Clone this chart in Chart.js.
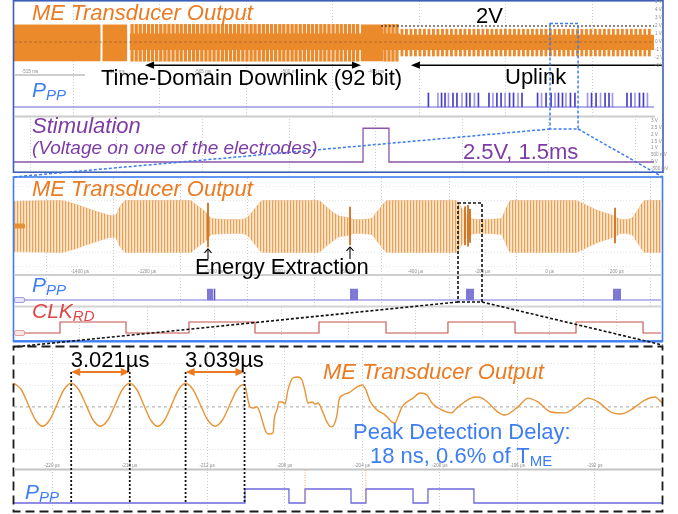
<!DOCTYPE html>
<html>
<head>
<meta charset="utf-8">
<title>ME transducer link waveforms</title>
<script src="https://cdn.jsdelivr.net/npm/chart.js@4/dist/chart.umd.min.js"></script>
<style>
  html, body { margin: 0; padding: 0; background: #fff; }
  #fig { position: relative; width: 678px; height: 514px; overflow: hidden; background: #fff;
         font-family: "Liberation Sans", Arial, Helvetica, sans-serif; }
  #fig canvas { position: absolute; }
  #fig svg { position: absolute; left: 0; top: 0; pointer-events: none; }
  .t { position: absolute; white-space: nowrap; line-height: 1; }
  .sub { position: relative; }
</style>
</head>
<body>
<div id="fig"></div>
<script>
// ===================== Panel 1: full frame, ms time base =====================
const p1RangeMs = [-515.925, -478.93];
const p1GridMs = [-515, -510, -505, -500, -495, -490, -485, -480];
const p1TickMs = [-515, -510, -505, -500, -495];
const p1MeVoltTicks = [5, 4, 3, 2, 1, 0, -1, -2, -3];
const p1StimVoltTicks = [3, 2.5, 2, 1.5, 1, 0.5, 0, -0.5];

// carrier envelope (solid part of the burst): time, upper V, lower V
const p1EnvTimeMs = [-515.93, -510.93, -510.92, -510.81, -510.80, -509.39, -509.38, -509.23, -509.22,
                     -495.88, -495.87, -494.60, -494.59, -493.62, -493.61, -478.93];
const p1EnvUpperV = [2.2, 2.2, 0, 0, 2.2, 2.2, 0, 0, 1.05, 1.05, 2.2, 2.2, 1.05, 1.05, 0.9, 0.9];
const p1EnvLowerV = [-2.4, -2.4, 0, 0, -2.4, -2.4, 0, 0, -1.0, -1.0, -2.4, -2.4, -1.0, -1.0, -1.0, -1.0];

// full-swing carrier cycles between the amplitude notches
const p1DownlinkTeethMs = [-509.10, -508.86, -508.63, -508.39, -508.15, -507.92, -507.68, -507.44, -507.20, -506.97,
  -506.73, -506.49, -506.26, -506.02, -505.78, -505.54, -505.31, -505.07, -504.83, -504.60, -504.36, -504.12,
  -503.88, -503.65, -503.41, -503.17, -502.94, -502.70, -502.46, -502.22, -501.99, -501.75, -501.51, -501.28,
  -501.04, -500.80, -500.56, -500.33, -500.09, -499.85, -499.62, -499.38, -499.14, -498.90, -498.67, -498.43,
  -498.19, -497.96, -497.72, -497.48, -497.24, -497.01, -496.77, -496.53, -496.30, -496.06];
const p1ResumeTeethMs = [-494.48, -494.25, -494.02, -493.79];
const p1UplinkTeethMs = [-493.50, -493.24, -492.98, -492.72, -492.46, -492.20, -491.94, -491.68, -491.42, -491.16,
  -490.90, -490.64, -490.38, -490.12, -489.86, -489.60, -489.34, -489.08, -488.82, -488.56, -488.30, -488.04,
  -487.78, -487.52, -487.26, -487.00, -486.74, -486.48, -486.22, -485.96, -485.70, -485.44, -485.18, -484.92,
  -484.66, -484.40, -484.14, -483.88, -483.62, -483.36, -483.10, -482.84, -482.58, -482.32, -482.06, -481.80,
  -481.54, -481.28, -481.02, -480.76, -480.50, -480.24, -479.98, -479.72, -479.46, -479.20];
const p1DownlinkSwingV = [-2.4, 2.2];
const p1UplinkSwingV = [-1.75, 1.6];

const p1RefLevelV = 2;
const p1RefStartMs = -494.71;
const p1ArrowLevelV = -2.9;
const p1DownlinkSpanMs = [-508.35, -495.87];
const p1UplinkStartMs = -492.98;
const p1ZoomMs = [-484.94, -483.32];

// peak-detector output pulses during uplink
const p1PpPulseMs = [-491.97, -491.42, -491.21, -491.01, -490.81, -490.55, -490.32, -490.03, -489.77, -489.57,
  -489.31, -489.08, -488.47, -488.24, -488.01, -487.77, -487.54, -487.28, -487.05, -486.79, -486.56, -485.66,
  -485.43, -485.17, -484.88, -484.65, -484.45, -484.22, -484.02, -483.76, -483.50, -482.77, -482.54, -482.28,
  -482.02, -481.76, -481.53, -481.33, -480.49, -480.26, -480.03, -479.77, -479.54, -479.31];
const p1PpHighV = 3;

// stimulation pulse on the electrode
const p1StimStartMs = -495.75;
const p1StimWidthMs = 1.5;
const p1StimAmpV = 2.5;

// ===================== Panel 2: uplink detail, µs time base =====================
const p2RangeUs = [-1596.7, 331.7];
const p2GridUs = [-1400, -1200, -1000, -800, -600, -400, -200, 0, 200];
const p2EnvTimeUs = [-1596.7, -1459.6, -1429.8, -1385.1, -1340.4, -1304.6, -1295.7, -1280.8, -1262.9,
  -1072.1, -1051.3, -1027.4, -1021.5, -1006.6, -923.1, -902.2, -878.4, -854.5,
  -690.6, -666.8, -631.0, -601.2, -580.3, -532.6, -511.8, -482.0,
  -279.3, -261.4, -249.5, -231.6, -213.7, -145.2, -130.3, -115.4,
  75.4, 105.2, 143.9, 179.7, 194.6, 215.5, 242.3, 263.2, 284.1, 331.7];
const p2EnvAmpV = [1.90, 1.97, 1.82, 1.44, 1.06, 0.83, 0.83, 1.52, 1.97,
  1.97, 1.59, 1.14, 0.99, 0.61, 0.53, 0.68, 1.36, 1.97,
  1.97, 1.52, 0.83, 0.68, 0.53, 0.61, 1.21, 1.97,
  1.97, 1.36, 0.91, 0.61, 0.53, 0.61, 1.36, 1.97,
  1.97, 1.67, 1.21, 0.91, 0.76, 0.53, 0.61, 1.29, 1.97, 1.97];
const p2SpikeUs = [-1018.5, -595.2, -252.5, -243.5, -237.6, 194.6];
const p2SpikeHiV = [1.78, 1.48, 1.5, 1.6, 1.3, 1.4];
const p2SpikeLoV = [-1.55, -1.40, -1.4, -1.5, -1.2, -1.25];
const p2PpPulseUs = [-1018.5, -1012.5, -1006.6, -999.1, -592.2, -586.3, -580.3, -574.3,
  -246.5, -240.6, -234.6, -228.6, 191.6, 197.6, 203.6, 209.5];
const p2ClkEdgeUs = [-1459.6, -1262.9, -1075.1, -878.4, -687.6, -487.9, -303.3, -103.4, 78.4, 278.1];
const p2ZoomUs = [-273.3, -201.8];

// ===================== Panel 3: one extraction event, µs time base =====================
const p3RangeUs = [-221.96, -188.54];
const p3GridUs = [-220, -216, -212, -208, -204, -200, -196, -192];
const p3WaveUs = [-221.96, -221.59, -221.22, -220.85, -220.49, -220.12, -219.75, -219.38, -219.01,
  -218.63, -218.25, -217.88, -217.50, -217.12, -216.74, -216.37, -215.99,
  -215.63, -215.27, -214.91, -214.55, -214.19, -213.83, -213.47, -213.11,
  -212.73, -212.35, -211.97, -211.59, -211.21, -210.83, -210.45, -210.07,
  -209.89, -209.79, -209.58, -209.43, -209.27, -209.12, -208.96, -208.81, -208.60, -208.53,
  -208.40, -208.29, -208.14, -207.98, -207.83, -207.57, -207.31, -207.11, -206.95, -206.80,
  -206.59, -206.44, -206.28, -206.08, -205.82, -205.61, -205.46, -205.30, -205.20, -204.99,
  -204.63, -204.27, -204.01, -203.81, -203.60, -203.24, -202.83, -202.47, -202.31, -202.16,
  -201.95, -201.69, -201.38, -201.02, -200.66, -200.40, -200.09, -199.42, -199.06, -198.39,
  -198.03, -197.67, -197.00, -196.64, -195.97, -195.45, -194.94, -194.27, -193.54, -192.87,
  -192.36, -191.84, -191.17, -190.66, -190.14, -189.42, -188.90, -188.54];
const p3WaveV = [1.10, 0.81, 0.10, -0.61, -0.90, -0.61, 0.10, 0.81, 1.10,
  0.81, 0.10, -0.61, -0.90, -0.61, 0.10, 0.81, 1.10,
  0.81, 0.10, -0.61, -0.90, -0.61, 0.10, 0.81, 1.10,
  0.81, 0.10, -0.61, -0.90, -0.61, 0.10, 0.81, 1.05,
  0.32, 0.00, -0.05, 0.00, -0.28, -0.75, -1.17, -1.26, -1.21, -0.52,
  -0.15, 0.23, 0.23, 0.13, 0.79, 1.35, 1.39, 1.25, 0.74, 0.18,
  0.23, 0.13, 0.18, -0.14, -0.70, -0.93, -0.84, -0.37, 0.32, 0.55,
  0.69, 0.93, 1.02, 0.79, 0.27, -0.14, -0.37, -0.70, -0.75, -0.47,
  0.00, 0.23, 0.41, 0.65, 0.55, 0.18, -0.05, -0.28, 0.00, 0.41,
  0.46, 0.32, -0.24, -0.38, 0.00, 0.41, 0.23, -0.24, -0.28, 0.09,
  0.41, 0.23, -0.24, -0.33, -0.14, 0.32, 0.46, 0.18];
// measured peak-to-peak periods
const p3PeriodStartUs = [-219.01, -213.11];
const p3PeriodUs = [3.021, 3.039];
const p3DelayNs = 18;
const p3PpEdgesUs = [-210.05, -207.78, -206.95, -204.58, -203.81, -201.38, -200.61, -198.24];

// ============================================================================
const FIG = document.getElementById('fig');
const ORANGE = '#EA8A2B';
const TXT_ORANGE = '#EB7B22';
const TXT_BLUE = '#3D7EF3';
const TXT_PURPLE = '#7D3CA5';

function makeScope(box, xRange, yRange, build, grid = {}) {
  const cv = document.createElement('canvas');
  cv.width = box.w; cv.height = box.h;
  Object.assign(cv.style, { left: box.x + 'px', top: box.y + 'px', width: box.w + 'px', height: box.h + 'px' });
  FIG.appendChild(cv);
  const ctx = cv.getContext('2d');
  const fixedTicks = vals => axis => { axis.ticks = (vals || []).map(v => ({ value: v })); };
  const chart = new Chart(ctx, {
    type: 'line',
    data: { datasets: build(ctx) },
    options: {
      responsive: false, animation: false, events: [], devicePixelRatio: 1,
      layout: { padding: 0 },
      plugins: { legend: { display: false }, tooltip: { enabled: false } },
      scales: {
        x: { type: 'linear', min: xRange[0], max: xRange[1], offset: false,
             afterBuildTicks: fixedTicks(grid.x),
             ticks: { display: false }, border: { display: false, dash: [1, 2] },
             grid: { drawTicks: false, color: grid.xColor || '#cfcfcf', lineWidth: 1 } },
        y: { type: 'linear', min: yRange[0], max: yRange[1],
             afterBuildTicks: fixedTicks(grid.y),
             ticks: { display: false }, border: { display: false, dash: [1, 2] },
             grid: { drawTicks: false, color: grid.yColor || '#e0e0e0', lineWidth: 1 } }
      }
    }
  });
  chart.box = box;
  return chart;
}

const pts = (xs, ys) => xs.map((x, i) => ({ x, y: ys[i] }));
const trace = (xs, ys, style) =>
  Object.assign({ type: 'line', data: pts(xs, ys), pointRadius: 0, borderWidth: 1, fill: false, tension: 0 }, style);
const spans = (xs, lo, hi, style) =>
  Object.assign({ type: 'bar', grouped: false, barThickness: 1, borderWidth: 0,
    data: xs.map((x, i) => ({ x, y: [Array.isArray(lo) ? lo[i] : lo, Array.isArray(hi) ? hi[i] : hi] })) }, style);
// logic-level trace from a list of toggling edges, starting low
function logic(range, edges, high) {
  const xs = [range[0]], ys = [0];
  edges.forEach((e, i) => { xs.push(e); ys.push(i % 2 === 0 ? high : 0); });
  xs.push(range[1]); ys.push(ys[ys.length - 1]);
  return { xs, ys };
}
const X = (ch, v) => ch.box.x + ch.scales.x.getPixelForValue(v);
const Y = (ch, v) => ch.box.y + ch.scales.y.getPixelForValue(v);

// ---------------- Panel 1 charts ----------------
const p1Me = makeScope({ x: 14, y: 1, w: 640, h: 75 }, p1RangeMs, [-4.25, 5.125], () => [
  trace(p1EnvTimeMs, p1EnvUpperV, { borderWidth: 0, backgroundColor: ORANGE, fill: '+1', order: 4 }),
  trace(p1EnvTimeMs, p1EnvLowerV, { borderWidth: 0, order: 4 }),
  spans(p1DownlinkTeethMs, p1DownlinkSwingV[0], p1DownlinkSwingV[1], { barThickness: 2.6, backgroundColor: ORANGE, order: 3 }),
  spans(p1ResumeTeethMs, p1DownlinkSwingV[0], p1DownlinkSwingV[1], { barThickness: 2.6, backgroundColor: ORANGE, order: 3 }),
  spans(p1UplinkTeethMs, p1UplinkSwingV[0], p1UplinkSwingV[1], { barThickness: 2.2, backgroundColor: ORANGE, order: 3 }),
  trace(p1RangeMs, [0, 0], { borderColor: 'rgba(130,80,40,0.55)', borderDash: [3, 2], order: 1 }),
  trace([p1RefStartMs, p1RangeMs[1]], [p1RefLevelV, p1RefLevelV], { borderColor: '#111', borderDash: [2, 2], borderWidth: 1.1, order: 0 })
], { x: p1GridMs });

// pulses alternate between the scope's bright and persistence shades
const pulseShade = p1PpPulseMs.map((_, i) => (i % 3 === 1 ? 'rgba(150,140,235,0.9)' : 'rgba(50,40,190,0.9)'));
const p1Pp = makeScope({ x: 14, y: 76, w: 640, h: 40 }, p1RangeMs, [-1.93, 6.64], () => [
  spans(p1PpPulseMs, 0, p1PpHighV, { barThickness: 1, backgroundColor: pulseShade, order: 1 }),
  trace(p1RangeMs, [0, 0], { borderColor: '#6a62d8', borderWidth: 1.2, order: 0 })
], { x: p1GridMs });

const stim = logic(p1RangeMs, [p1StimStartMs, p1StimStartMs + p1StimWidthMs], p1StimAmpV);
const p1Stim = makeScope({ x: 14, y: 116, w: 640, h: 55 }, p1RangeMs, [-0.667, 3.407], () => [
  trace(stim.xs, stim.ys, { borderColor: '#8a55a6', borderWidth: 1.3, stepped: true })
], { x: p1GridMs });

// ---------------- Panel 2 charts ----------------
const p2Me = makeScope({ x: 14, y: 178, w: 647, h: 97 }, p2RangeUs, [-3.677, 3.677], ctx => {
  // dense carrier cycles rendered as fine vertical striping
  const tile = document.createElement('canvas');
  tile.width = 3; tile.height = 1;
  const tg = tile.getContext('2d');
  tg.fillStyle = '#e8a058'; tg.fillRect(0, 0, 1, 1);
  tg.fillStyle = '#f8d8b0'; tg.fillRect(1, 0, 1, 1);
  tg.fillStyle = '#fbe6cc'; tg.fillRect(2, 0, 1, 1);
  const stripes = ctx.createPattern(tile, 'repeat');
  return [
    trace(p2EnvTimeUs, p2EnvAmpV, { borderColor: 'rgba(228,160,90,0.55)', borderWidth: 0.6, backgroundColor: stripes,
      fill: '+1', cubicInterpolationMode: 'monotone', order: 3 }),
    trace(p2EnvTimeUs, p2EnvAmpV.map(a => -a), { borderColor: 'rgba(228,160,90,0.55)', borderWidth: 0.6,
      cubicInterpolationMode: 'monotone', order: 3 }),
    spans(p2SpikeUs, p2SpikeLoV, p2SpikeHiV, { barThickness: 1.2, backgroundColor: '#cf7424', order: 1 })
  ];
}, { x: p2GridUs, y: [-3, -2, -1, 0, 1, 2, 3], yColor: '#e4e4e4' });

const p2Pp = makeScope({ x: 14, y: 275, w: 647, h: 32 }, p2RangeUs, [-1.909, 6.818], () => [
  spans(p2PpPulseUs, 0, 3, { barThickness: 0.9, backgroundColor: '#5b52c9', order: 1 }),
  trace(p2RangeUs, [0, 0], { borderColor: '#7a72dc', borderWidth: 1.1, order: 0 })
], { x: p2GridUs });

const clk = logic(p2RangeUs, p2ClkEdgeUs, 1);
const p2Clk = makeScope({ x: 14, y: 307, w: 647, h: 33 }, p2RangeUs, [-0.636, 2.364], () => [
  trace(clk.xs, clk.ys, { borderColor: '#c4504c', borderWidth: 1.1, stepped: true })
], { x: p2GridUs });

// ---------------- Panel 3 charts ----------------
const p3Me = makeScope({ x: 14, y: 348, w: 648, h: 121 }, p3RangeUs, [-2.891, 2.742], () => [
  trace(p3WaveUs, p3WaveV, { borderColor: '#E99437', borderWidth: 1.4, cubicInterpolationMode: 'monotone', order: 0 }),
  trace(p3RangeUs, [0, 0], { borderColor: '#a9a9a9', borderDash: [3, 3], order: 2 })
], { x: p3GridUs, y: [-2, -1, 1, 2], yColor: '#e3e3e3' });

const pp3 = logic(p3RangeUs, p3PpEdgesUs, 1);
const p3Pp = makeScope({ x: 14, y: 469, w: 648, h: 42 }, p3RangeUs, [-0.571, 2.429], () => [
  trace(pp3.xs, pp3.ys, { borderColor: '#6e68dc', borderWidth: 1.3, stepped: true })
], { x: p3GridUs });

// ---------------- frames, separators, zoom boxes and arrows ----------------
const s = [];
const line = (x1, y1, x2, y2, c, w, dash) =>
  s.push(`<line x1="${x1}" y1="${y1}" x2="${x2}" y2="${y2}" stroke="${c}" stroke-width="${w}"${dash ? ` stroke-dasharray="${dash}"` : ''}/>`);
const rect = (x, y, w, h, c, sw, dash) =>
  s.push(`<rect x="${x}" y="${y}" width="${w}" height="${h}" fill="none" stroke="${c}" stroke-width="${sw}"${dash ? ` stroke-dasharray="${dash}"` : ''}/>`);
const head = (x, y, dx, dy, len, half, c) => {
  const bx = x - dx * len, by = y - dy * len;
  s.push(`<path d="M${x},${y} L${bx - dy * half},${by + dx * half} L${bx + dy * half},${by - dx * half} Z" fill="${c}"/>`);
};

// panel 1
rect(13.5, 0.8, 649.5, 171.4, '#3d5fb8', 1.6);
line(15, 75, 85, 75, '#bdbdbd', 1.5);
line(14, 116.5, 655, 116.5, '#cccccc', 2);
const yArrow = Y(p1Me, p1ArrowLevelV);
const dA = X(p1Me, p1DownlinkSpanMs[0]), dB = X(p1Me, p1DownlinkSpanMs[1]);
line(dA + 6, yArrow, dB - 6, yArrow, '#000', 1.4);
head(dA, yArrow, -1, 0, 9, 3.6, '#000');
head(dB, yArrow, 1, 0, 9, 3.6, '#000');
const uA = X(p1Me, p1UplinkStartMs);
line(uA + 6, yArrow, 662, yArrow, '#000', 1.4);
head(uA, yArrow, -1, 0, 9, 3.6, '#000');
const z1a = X(p1Me, p1ZoomMs[0]), z1b = X(p1Me, p1ZoomMs[1]);
rect(z1a, 23.5, z1b - z1a, 105.5, '#3b7bf0', 1.5, '3 2');
line(z1a, 129, 13.5, 177, '#3b7bf0', 1.5, '3 2');
line(z1b, 129, 662.5, 177, '#3b7bf0', 1.5, '3 2');

// panel 2
rect(13.5, 177, 649, 164, '#3e7ef2', 1.6);
line(13, 341.5, 663, 341.5, '#3e7ef2', 2.2);
line(14, 275, 661, 275, '#cfcfcf', 2);
line(14, 306.5, 661, 306.5, '#d4d4d4', 2);
s.push(`<rect x="14" y="223.5" width="11" height="5" rx="1.5" fill="#e8902e"/>`);
s.push(`<rect x="14.5" y="297.5" width="10" height="5" rx="1.5" fill="#e9e8fb" stroke="#8a86e0" stroke-width="0.8"/>`);
s.push(`<rect x="14.5" y="330.5" width="10" height="5" rx="1.5" fill="#fbe6e6" stroke="#e08a8a" stroke-width="0.8"/>`);
[0, 1].forEach(i => {
  const x = X(p2Me, p2SpikeUs[i]);
  const tip = Y(p2Me, p2SpikeLoV[i]) + 2;
  line(x, tip, x, 259, '#000', 1.1);
  s.push(`<path d="M${x - 3.5},${tip + 4} L${x},${tip} L${x + 3.5},${tip + 4}" fill="none" stroke="#000" stroke-width="1.1"/>`);
});
const z2a = X(p2Me, p2ZoomUs[0]), z2b = X(p2Me, p2ZoomUs[1]);
rect(z2a, 203, z2b - z2a, 99, '#111', 1.6, '3 2');
line(z2a, 302, 13.5, 347, '#111', 1.6, '3 2');
line(z2b, 302, 662.5, 345, '#111', 1.6, '3 2');

// panel 3
rect(13.5, 346.5, 649, 165, '#1b1b1b', 1.8, '9 5');
line(14, 469.5, 662, 469.5, '#c4c4c4', 2);
[2, 4].forEach(i => {
  const x = X(p3Pp, p3PpEdgesUs[i]);
  line(x, 470, x, 503, 'rgba(240,150,60,0.85)', 1, '1 1.5');
});
const periodMarks = p3PeriodStartUs.map((t0, i) => {
  const xa = X(p3Me, t0), xb = X(p3Me, t0 + p3PeriodUs[i]);
  [xa, xb].forEach(x => line(x, 372, x, 503, '#111', 1.8, '2 2'));
  line(xa + 7, 372, xb - 7, 372, '#EB7B22', 2);
  head(xa, 372, -1, 0, 9, 4, '#EB7B22');
  head(xb, 372, 1, 0, 9, 4, '#EB7B22');
  return xa;
});

const svg = document.createElementNS('http://www.w3.org/2000/svg', 'svg');
svg.setAttribute('width', 678); svg.setAttribute('height', 514);
svg.innerHTML = s.join('');
FIG.appendChild(svg);

// ---------------- text ----------------
function text(html, x, base, size, color, extra = '') {
  const d = document.createElement('div');
  d.className = 't';
  d.innerHTML = html;
  d.style.cssText = `left:${x}px;top:${(base - 0.847 * size).toFixed(2)}px;font-size:${size}px;color:${color};${extra}`;
  FIG.appendChild(d);
  return d;
}
const sub = (str, size, drop) => `<span class="sub" style="font-size:${size}px;top:${drop}px">${str}</span>`;
const tiny = (str, x, yMid, align) =>
  text(str, x, yMid + 1.7, 4.6, '#8c8c8c', align === 'c' ? 'transform:translateX(-50%)' : '');
const volt = v => (v !== 0 && Math.abs(v) < 1) ? `${Math.round(v * 1000)} mV` : `${v} V`;

// scope tick labels
p1TickMs.forEach(t => tiny(`${t} ms`, X(p1Me, t), 72.5, 'c'));
p1MeVoltTicks.forEach(v => tiny(volt(v), 655, Y(p1Me, v)));
p1StimVoltTicks.forEach(v => tiny(volt(v), 651, Y(p1Stim, v)));
p2GridUs.forEach(t => tiny(`${t} µs`, X(p2Me, t), 272.5, 'c'));
p3GridUs.forEach(t => tiny(`${t} µs`, X(p3Me, t), 466.5, 'c'));

// panel 1 labels
text('ME Transducer Output', 32, 20.5, 22, TXT_ORANGE, 'font-style:italic');
text('P' + sub('PP', 15, 3), 32, 97, 21, TXT_BLUE, 'font-style:italic');
text('Stimulation', 32, 134, 22, TXT_PURPLE, 'font-style:italic');
text('(Voltage on one of the electrodes)', 32, 154, 19, TXT_PURPLE, 'font-style:italic');
text('Time-Domain Downlink (92 bit)', 101, 86, 22, '#000');
text('Uplink', 505, 85, 22, '#000');
text(`${p1RefLevelV}V`, 476, 24, 22, '#000');
text(`${p1StimAmpV}V, ${p1StimWidthMs}ms`, 463, 160, 22, TXT_PURPLE);

// panel 2 labels
text('ME Transducer Output', 32, 197, 22, TXT_ORANGE, 'font-style:italic');
text('P' + sub('PP', 15, 3), 32, 292, 21, TXT_BLUE, 'font-style:italic');
text('CLK' + sub('RD', 15, 3), 32, 318, 21, '#E04646', 'font-style:italic');
text('Energy Extraction', 195, 275, 22, '#000');

// panel 3 labels
periodMarks.forEach((xa, i) => text(`${p3PeriodUs[i].toFixed(3)}µs`, xa - 0.5, 368, 22, '#000'));
text('ME Transducer Output', 323, 380, 22, TXT_ORANGE, 'font-style:italic');
const meanPeriodUs = p3PeriodUs.reduce((a, b) => a + b, 0) / p3PeriodUs.length;
const delayPct = (p3DelayNs / (meanPeriodUs * 1000) * 100).toFixed(1);
text('Peak Detection Delay:', 353, 440, 22, TXT_BLUE);
text(`${p3DelayNs} ns, ${delayPct}% of T` + sub('ME', 15, 3), 370, 463.5, 22, TXT_BLUE);
text('P' + sub('PP', 15, 3), 25, 499, 21, TXT_BLUE, 'font-style:italic');
</script>
</body>
</html>
